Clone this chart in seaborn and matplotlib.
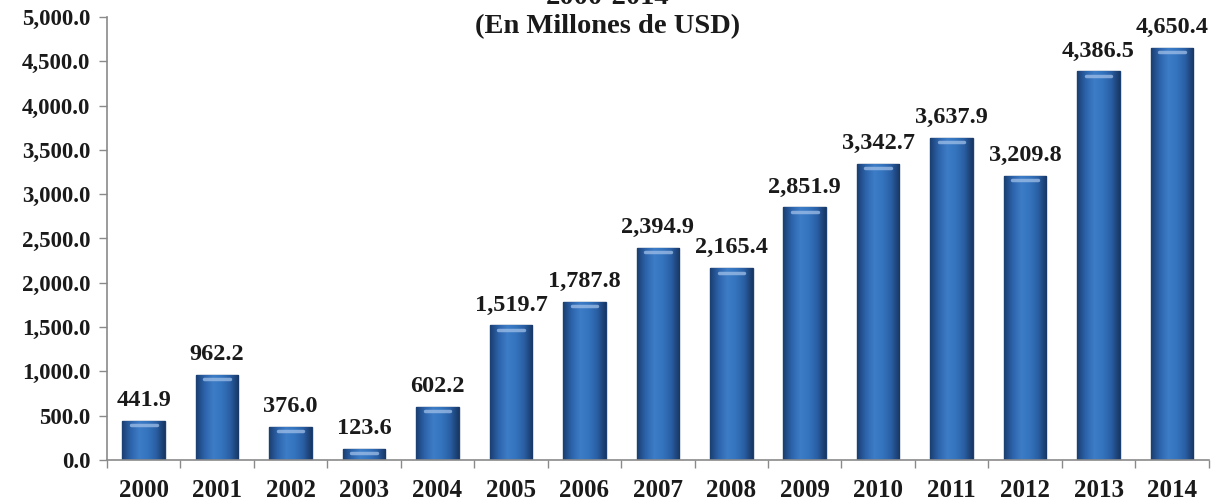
import matplotlib
matplotlib.use("Agg")
import matplotlib.pyplot as plt
import seaborn as sns
import pandas as pd
import numpy as np
from matplotlib.ticker import FuncFormatter
from matplotlib.colors import LinearSegmentedColormap

years = ["2000", "2001", "2002", "2003", "2004", "2005", "2006", "2007",
         "2008", "2009", "2010", "2011", "2012", "2013", "2014"]
values = [441.9, 962.2, 376.0, 123.6, 602.2, 1519.7, 1787.8, 2394.9,
          2165.4, 2851.9, 3342.7, 3637.9, 3209.8, 4386.5, 4650.4]
title_lines = ["2000-2014", "(En Millones de USD)"]

sns.set_theme(style="white")
plt.rcParams['font.family'] = ['Liberation Serif', 'DejaVu Serif']

df = pd.DataFrame({"year": years, "value": values})

fig = plt.figure(figsize=(12.16, 5.01), dpi=100)
ax = fig.add_axes([0.088, 0.082, 0.906, 0.884])

sns.barplot(data=df, x="year", y="value", color="#2F6BB3", width=0.58,
            edgecolor="#1A3F70", linewidth=1.0, saturation=1, ax=ax)

cmap = LinearSegmentedColormap.from_list(
    "barg", ["#1B3F72", "#2C64AC", "#3D7CC6", "#3474BE", "#2A5FA4", "#183866"])
grad = np.linspace(0, 1, 64).reshape(1, -1)
for p in ax.patches:
    x0, w, h = p.get_x(), p.get_width(), p.get_height()
    im = ax.imshow(grad, cmap=cmap, aspect="auto", extent=[x0, x0 + w, 0, h],
                   zorder=p.get_zorder() + 0.1, interpolation="bicubic")
    im.set_clip_path(p)
    ax.plot([x0 + w * 0.2, x0 + w * 0.8], [h - 50, h - 50], color="#9FBFE8",
            lw=2.5, alpha=0.75, zorder=p.get_zorder() + 0.2, solid_capstyle="round")

for p, v in zip(ax.patches, values):
    ax.text(p.get_x() + p.get_width() / 2, v + 110, f"{v:,.1f}",
            ha="center", va="bottom", fontsize=17.5, fontweight="bold", color="#1a1a1a")

ax.set_ylim(0, 5000)
ax.set_yticks(range(0, 5001, 500))
ax.yaxis.set_major_formatter(FuncFormatter(lambda v, _: f"{v:,.1f}"))
ax.set_xlim(-0.5, len(years) - 0.5)
ax.set_xlabel("")
ax.set_ylabel("")

for s in ["top", "right"]:
    ax.spines[s].set_visible(False)
for s in ["left", "bottom"]:
    ax.spines[s].set_color("#8a8a8a")
    ax.spines[s].set_linewidth(1.2)

ax.tick_params(axis="y", which="both", left=True, length=6, width=1, color="#8a8a8a",
               labelsize=16.5, pad=6)
ax.tick_params(axis="x", bottom=False, labelsize=18, pad=8)
ax.set_xticks([i + 0.5 for i in range(-1, len(years))], minor=True)
ax.tick_params(axis="x", which="minor", bottom=True, length=6, width=1, color="#8a8a8a")
for lbl in ax.get_xticklabels() + ax.get_yticklabels():
    lbl.set_fontweight("bold")
    lbl.set_color("#1a1a1a")

fig.text(0.5, 1.004, title_lines[0], ha="center", va="center", fontsize=20.5,
         fontweight="bold", color="#1a1a1a")
fig.text(0.5, 0.946, title_lines[1], ha="center", va="center", fontsize=20.5,
         fontweight="bold", color="#1a1a1a")

fig.savefig("out.png", dpi=100)
